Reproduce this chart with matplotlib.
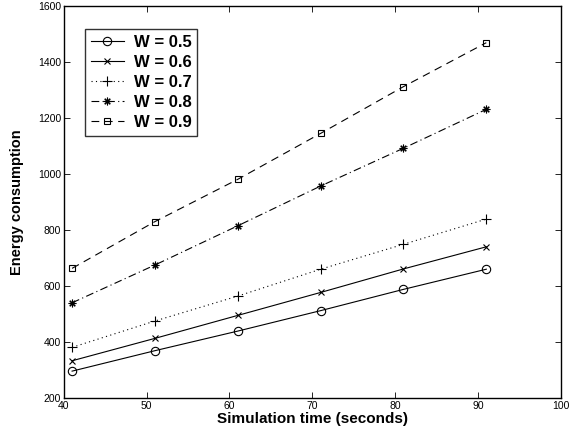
import numpy as np
import matplotlib.pyplot as plt

plt.rcParams['font.family'] = ['Liberation Sans', 'DejaVu Sans']

sim_time = [41, 51, 61, 71, 81, 91]
w_labels = ['W = 0.5', 'W = 0.6', 'W = 0.7', 'W = 0.8', 'W = 0.9']
energy = [
    [296, 369, 439, 512, 588, 660],
    [333, 413, 495, 577, 661, 740],
    [381, 475, 564, 660, 749, 839],
    [540, 675, 815, 957, 1092, 1231],
    [663, 830, 981, 1145, 1312, 1469],
]
x_ticks = [40, 50, 60, 70, 80, 90, 100]
y_ticks = [200, 400, 600, 800, 1000, 1200, 1400, 1600]

# matlab-ish markers: asterisk = 8 spokes
markers = ['o', 'x', '+', (8, 2, 0), 's']
styles = ['-', '-', (0, (1, 3)), (0, (7, 3, 1, 3)), (0, (7, 5))]
msizes = [6, 4.5, 7, 5.5, 5]

fig = plt.figure(figsize=(5.8, 4.38), dpi=100)
ax = fig.add_axes([0.110, 0.0913, 0.857, 0.895])

for i in range(len(w_labels)):
    ax.plot(sim_time, energy[i], color='black', linestyle=styles[i], linewidth=0.8,
            marker=markers[i], markersize=msizes[i], markerfacecolor='none',
            markeredgecolor='black', markeredgewidth=0.8, label=w_labels[i])

ax.set_xlim(40, 100)
ax.set_ylim(200, 1600)
ax.set_xticks(x_ticks)
ax.set_yticks(y_ticks)
ax.tick_params(direction='in', length=4, width=0.6, labelsize=7.5, top=True, right=True, pad=2)
for s in ax.spines.values():
    s.set_linewidth(1.0)

ax.set_xlabel('Simulation time (seconds)', fontsize=11, fontweight='bold', labelpad=1)
ax.set_ylabel('Energy consumption', fontsize=10.5, fontweight='bold', labelpad=10)

leg = ax.legend(loc='upper left', bbox_to_anchor=(0.042, 0.941),
                prop={'weight': 'bold', 'size': 12}, frameon=True, fancybox=False,
                edgecolor='black', labelspacing=0.3, handlelength=2.0, handletextpad=0.6,
                borderpad=0.35, borderaxespad=0)
leg.get_frame().set_linewidth(1.0)

plt.savefig('out.png', dpi=100)
